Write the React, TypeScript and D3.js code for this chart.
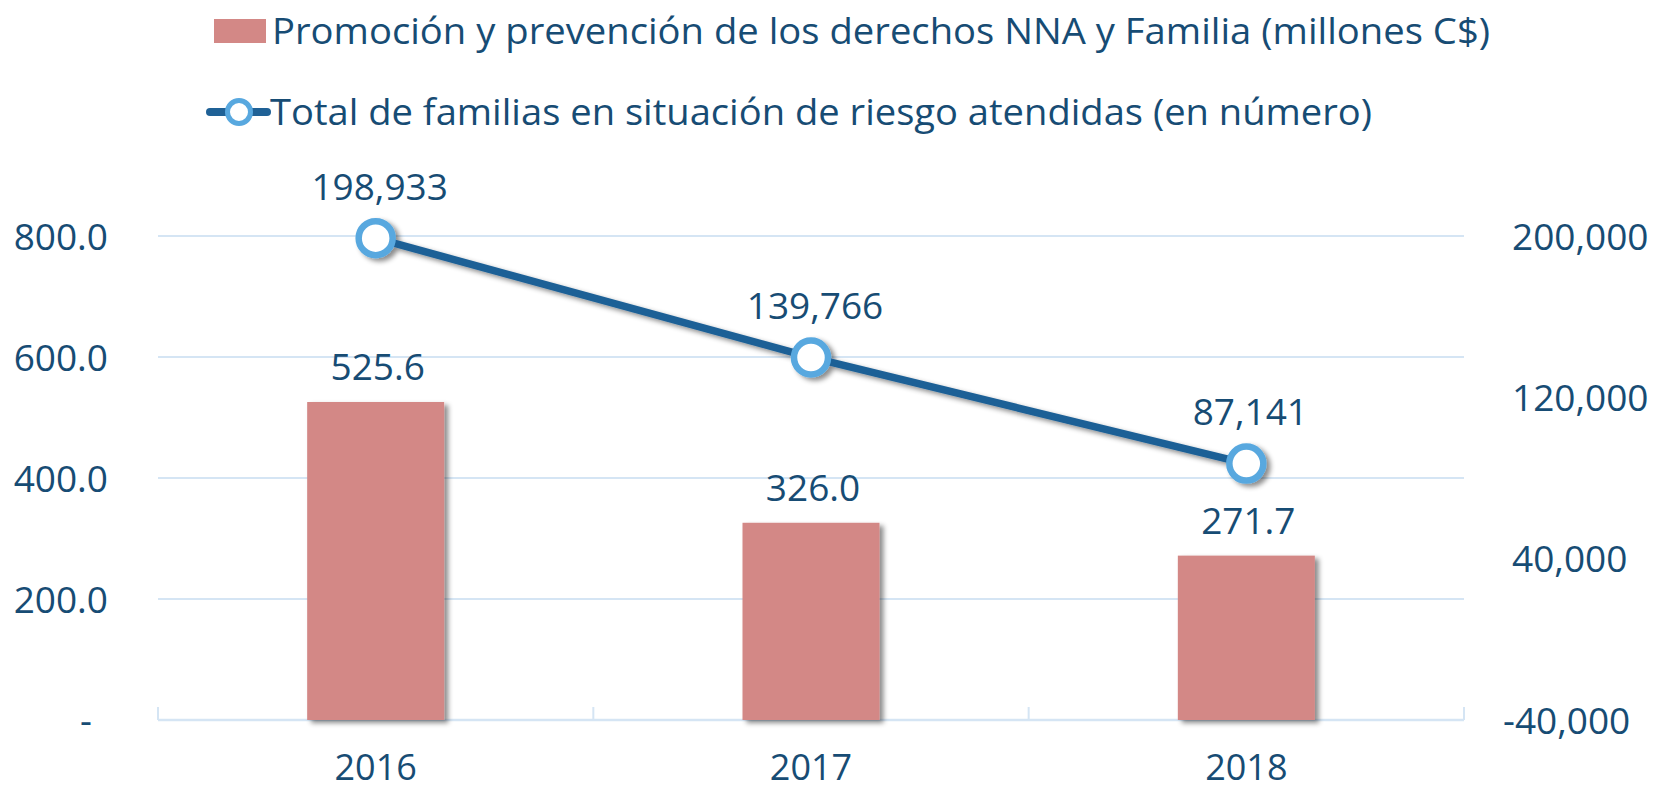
import React from "react";
import * as d3 from "d3";

const years: string[] = ["2016", "2017", "2018"];
const budget: number[] = [525.6, 326.0, 271.7];
const families: number[] = [198933, 139766, 87141];
const leftTicks: number[] = [0, 200, 400, 600, 800];
const rightTicks: number[] = [-40000, 40000, 120000, 200000];
const legendBar = "Promoción y prevención de los derechos NNA y Familia (millones C$)";
const legendLine = "Total de familias en situación de riesgo atendidas (en número)";

const W = 1657;
const H = 791;
const PL = 158;
const PR = 1464;
const PB = 720;
const PT = 236;

const TEXT = "#174C74";
const BAR = "#D38886";
const LINE = "#1F6196";
const MARK = "#58A8DF";
const GRID = "#D5E5F4";
const FONT = "'Open Sans', 'Noto Sans', sans-serif";

export default function App() {
  const x = d3
    .scaleBand<string>()
    .domain(years)
    .range([PL, PR])
    .paddingInner(0.6853)
    .paddingOuter(0.34265);
  const yL = d3.scaleLinear().domain([0, 800]).range([PB, PT]);
  const yR = d3.scaleLinear().domain([-40000, 200000]).range([PB, PT]);
  const cx = (y: string) => (x(y) as number) + x.bandwidth() / 2;

  const pts: [number, number][] = years.map((y, i) => [cx(y), yR(families[i])]);
  const linePath = d3.line()(pts) as string;

  const loc = d3.formatLocale({ decimal: ".", thousands: ",", grouping: [3], currency: ["", ""], minus: "-" });
  const fmtL = loc.format(",.1f");
  const fmtR = loc.format(",.0f");

  const step = x.step();
  const catTicks = d3.range(years.length + 1).map((i) => PL + i * step);

  return (
    <svg
      width={W}
      height={H}
      style={{ position: "absolute", left: 0, top: 0, background: "#fff" }}
      fontFamily={FONT}
    >
      <defs>
        <filter id="sh" x="-20%" y="-20%" width="150%" height="150%">
          <feDropShadow dx="4" dy="3" stdDeviation="2.5" floodColor="#000" floodOpacity="0.45" />
        </filter>
      </defs>

      {/* Legend */}
      <rect x={214} y={19} width={52} height={24} fill={BAR} />
      <text x={272} y={44} fontSize={37} fill={TEXT} textLength={1218} lengthAdjust="spacingAndGlyphs">
        {legendBar}
      </text>
      <line x1={210} x2={267} y1={112} y2={112} stroke={LINE} strokeWidth={8} strokeLinecap="round" />
      <circle cx={239} cy={112} r={11.5} fill="#fff" stroke={MARK} strokeWidth={5} />
      <text x={270} y={125} fontSize={37} fill={TEXT} textLength={1102} lengthAdjust="spacingAndGlyphs">
        {legendLine}
      </text>

      {/* Gridlines */}
      {leftTicks.slice(1).map((t) => (
        <line key={t} x1={PL} x2={PR} y1={yL(t)} y2={yL(t)} stroke={GRID} strokeWidth={2} />
      ))}
      <line x1={PL} x2={PR} y1={PB} y2={PB} stroke={GRID} strokeWidth={2.5} />
      {catTicks.map((t, i) => (
        <line key={i} x1={t} x2={t} y1={PB - 13} y2={PB} stroke={GRID} strokeWidth={2} />
      ))}

      {/* Left axis labels */}
      {leftTicks.map((t) => (
        <text
          key={t}
          x={t === 0 ? 92 : 108}
          y={yL(t) + 13.5}
          textAnchor="end"
          fontSize={37}
          fill={TEXT}
        >
          {t === 0 ? "-" : fmtL(t)}
        </text>
      ))}

      {/* Right axis labels */}
      {rightTicks.map((t) => (
        <text
          key={t}
          x={t < 0 ? 1503 : 1512}
          y={yR(t) + 13.5}
          textAnchor="start"
          fontSize={37}
          fill={TEXT}
        >
          {fmtR(t)}
        </text>
      ))}

      {/* Bars */}
      {years.map((y, i) => (
        <rect
          key={y}
          x={x(y)}
          y={yL(budget[i])}
          width={x.bandwidth()}
          height={PB - yL(budget[i])}
          fill={BAR}
          filter="url(#sh)"
        />
      ))}

      {/* Bar labels */}
      {years.map((y, i) => (
        <text key={y} x={cx(y) + 2} y={yL(budget[i]) - 22} textAnchor="middle" fontSize={37} fill={TEXT}>
          {fmtL(budget[i])}
        </text>
      ))}

      {/* Line */}
      <g filter="url(#sh)">
        <path d={linePath} fill="none" stroke={LINE} strokeWidth={7.5} strokeLinejoin="round" />
        {pts.map((p, i) => (
          <circle key={i} cx={p[0]} cy={p[1]} r={17} fill="#fff" stroke={MARK} strokeWidth={6.5} />
        ))}
      </g>

      {/* Line labels */}
      {years.map((y, i) => (
        <text key={y} x={cx(y) + 4} y={yR(families[i]) - 38.5} textAnchor="middle" fontSize={37} fill={TEXT}>
          {fmtR(families[i])}
        </text>
      ))}

      {/* X labels */}
      {years.map((y) => (
        <text key={y} x={cx(y)} y={780} textAnchor="middle" fontSize={36} fill={TEXT}>
          {y}
        </text>
      ))}
    </svg>
  );
}
